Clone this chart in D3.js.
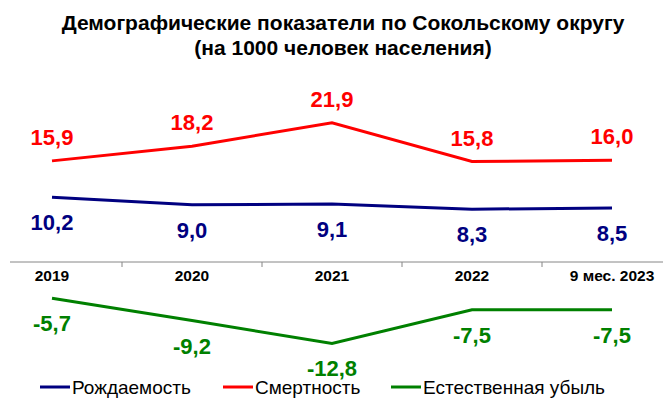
<!DOCTYPE html>
<html lang="ru">
<head>
<meta charset="UTF-8">
<title>Демографические показатели</title>
<script src="https://d3js.org/d3.v7.min.js"></script>
<style>
    body { margin: 0; background: #fff; }
    svg text { font-family: "Liberation Sans", Arial, sans-serif; }
    .title { font-size: 21px; font-weight: bold; fill: #000; }
    .tick-label { font-size: 15.5px; font-weight: bold; fill: #000; }
    .value { font-size: 22px; font-weight: bold; }
    .legend text { font-size: 19px; fill: #000; }
</style>
</head>
<body>
<script>
    var width = 663, height = 403;

    var years = ["2019", "2020", "2021", "2022", "9 мес. 2023"];
    var birth = [10.2, 9.0, 9.1, 8.3, 8.5];
    var death = [15.9, 18.2, 21.9, 15.8, 16.0];
    var natural = [-5.7, -9.2, -12.8, -7.5, -7.5];

    var series = [
        {name: "Рождаемость", values: birth, color: "#000080", labelDy: 33},
        {name: "Смертность", values: death, color: "#ff0000", labelDy: -16},
        {name: "Естественная убыль", values: natural, color: "#008000", labelDy: 33}
    ];

    var svg = d3.select("body").append("svg")
        .attr("width", width)
        .attr("height", height);

    // title
    svg.append("text").attr("class", "title")
        .attr("x", 343).attr("y", 30)
        .attr("text-anchor", "middle")
        .text("Демографические показатели по Сокольскому округу");
    svg.append("text").attr("class", "title")
        .attr("x", 343).attr("y", 55)
        .attr("text-anchor", "middle")
        .text("(на 1000 человек населения)");

    var x = d3.scaleBand().domain(years).range([-18, 682]);
    var cx = function(i) { return x(years[i]) + x.bandwidth() / 2; };
    var y = d3.scaleLinear().domain([0, 20]).range([262, 262 - 127.2]);

    // x axis at zero
    svg.append("line")
        .attr("x1", 10).attr("x2", 663)
        .attr("y1", y(0)).attr("y2", y(0))
        .attr("stroke", "#868686").attr("stroke-width", 1);

    svg.selectAll(".tick-mark")
        .data(years.slice(1))
        .enter().append("line")
        .attr("class", "tick-mark")
        .attr("x1", function(d) { return x(d); })
        .attr("x2", function(d) { return x(d); })
        .attr("y1", y(0)).attr("y2", y(0) + 5)
        .attr("stroke", "#868686").attr("stroke-width", 1);

    svg.selectAll(".tick-label")
        .data(years)
        .enter().append("text")
        .attr("class", "tick-label")
        .attr("x", function(d, i) { return cx(i); })
        .attr("y", y(0) + 19)
        .attr("text-anchor", "middle")
        .text(function(d) { return d; });

    var line = d3.line()
        .x(function(d, i) { return cx(i); })
        .y(function(d) { return y(d); });

    series.forEach(function(s) {
        svg.append("path")
            .datum(s.values)
            .attr("d", line)
            .attr("fill", "none")
            .attr("stroke", s.color)
            .attr("stroke-width", 3);

        svg.selectAll(null)
            .data(s.values)
            .enter().append("text")
            .attr("class", "value")
            .attr("x", function(d, i) { return cx(i); })
            .attr("y", function(d) { return y(d) + s.labelDy; })
            .attr("text-anchor", "middle")
            .attr("fill", s.color)
            .text(function(d) { return d.toFixed(1).replace(".", ","); });
    });

    // legend
    var legendX = [40, 223, 391];
    var legend = svg.append("g").attr("class", "legend");
    series.forEach(function(s, i) {
        legend.append("line")
            .attr("x1", legendX[i]).attr("x2", legendX[i] + 30)
            .attr("y1", 387).attr("y2", 387)
            .attr("stroke", s.color).attr("stroke-width", 3);
        legend.append("text")
            .attr("x", legendX[i] + 32).attr("y", 394)
            .text(s.name);
    });
</script>
</body>
</html>
